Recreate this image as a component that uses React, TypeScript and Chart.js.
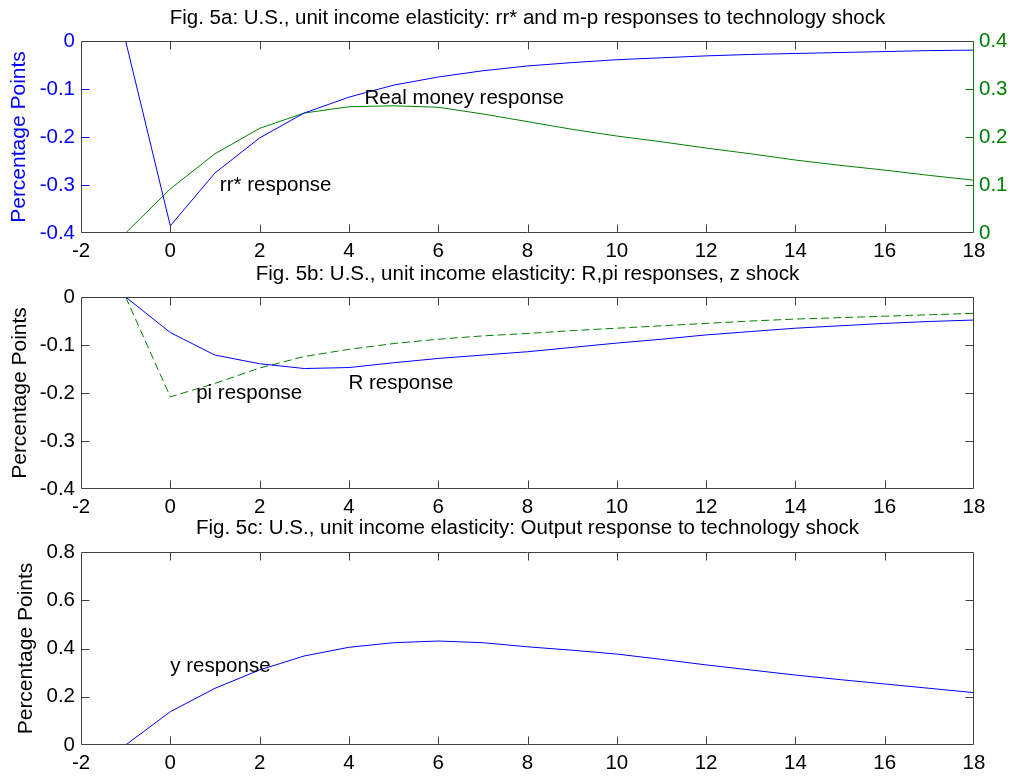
import React, { useEffect, useRef } from "react";
import { Chart, registerables } from "chart.js";

Chart.register(...registerables);

// ---------- data ----------
const periods = [-1, 0, 1, 2, 3, 4, 5, 6, 7, 8, 9, 10, 11, 12, 13, 14, 15, 16, 17, 18];

// Fig 5a
const rrStarResponse = [0, -0.385, -0.275, -0.202, -0.15, -0.117, -0.092, -0.075, -0.062, -0.052, -0.045, -0.039, -0.035, -0.031, -0.028, -0.026, -0.024, -0.022, -0.02, -0.019];
const realMoneyResponse = [0, 0.092, 0.165, 0.218, 0.25, 0.263, 0.265, 0.262, 0.248, 0.232, 0.216, 0.202, 0.19, 0.177, 0.165, 0.152, 0.141, 0.131, 0.12, 0.11];

// Fig 5b
const rResponse = [0, -0.074, -0.121, -0.139, -0.149, -0.147, -0.137, -0.128, -0.121, -0.114, -0.105, -0.096, -0.088, -0.079, -0.072, -0.065, -0.06, -0.055, -0.051, -0.048];
const piResponse = [0, -0.208, -0.18, -0.148, -0.124, -0.109, -0.097, -0.088, -0.081, -0.076, -0.07, -0.065, -0.06, -0.055, -0.05, -0.046, -0.043, -0.04, -0.037, -0.034];

// Fig 5c
const yResponse = [0, 0.138, 0.235, 0.311, 0.369, 0.405, 0.424, 0.431, 0.424, 0.407, 0.393, 0.377, 0.355, 0.332, 0.311, 0.29, 0.271, 0.253, 0.235, 0.217];

const titles = [
  "Fig. 5a: U.S., unit income elasticity: rr* and m-p responses to technology shock",
  "Fig. 5b: U.S., unit income elasticity: R,pi responses, z shock",
  "Fig. 5c: U.S., unit income elasticity: Output response to technology shock",
];

const yAxisLabel = "Percentage Points";

// ---------- styling ----------
const FONT = '"Liberation Sans", Arial, Helvetica, sans-serif';
const BLUE = "#0000ff";
const GREEN = "#008000";
const FRAME = "#404040";
const TICK_FONT_SIZE = 20.5;
const TITLE_FONT_SIZE = 20.5;
const AXIS_TITLE_SIZE = 21;

const toPoints = (ys: number[]) => periods.map((p, i) => ({ x: p, y: ys[i] }));

const fmt1 = (v: any) => {
  const n = Number(v);
  return String(parseFloat(n.toFixed(1)));
};

const framePlugin = {
  id: "matFrame",
  afterDraw(chart: any, _args: any, opts: any) {
    const { ctx, chartArea: a, scales } = chart;
    ctx.save();
    // title
    ctx.font = `${TITLE_FONT_SIZE}px ${FONT}`;
    ctx.fillStyle = "#000";
    ctx.textAlign = "center";
    ctx.textBaseline = "middle";
    ctx.fillText(opts.title, (a.left + a.right) / 2, a.top - opts.titleOffset);

    // annotations
    ctx.font = `${TICK_FONT_SIZE}px ${FONT}`;
    ctx.textAlign = "left";
    ctx.textBaseline = "middle";
    (opts.notes || []).forEach((n: any) => {
      const px = scales.x.getPixelForValue(n.x);
      const py = scales[n.axis || "y"].getPixelForValue(n.y);
      ctx.fillText(n.text, px, py);
    });

    // frame
    ctx.lineWidth = 1;
    ctx.strokeStyle = FRAME;
    const L = Math.round(a.left) + 0.5;
    const R = Math.round(a.right) - 0.5;
    const T = Math.round(a.top) + 0.5;
    const B = Math.round(a.bottom) - 0.5;
    ctx.beginPath();
    ctx.moveTo(R, T);
    ctx.lineTo(L, T);
    ctx.lineTo(L, B);
    ctx.lineTo(R, B);
    ctx.stroke();
    ctx.strokeStyle = opts.rightColor || FRAME;
    ctx.beginPath();
    ctx.moveTo(R, T);
    ctx.lineTo(R, B);
    ctx.stroke();

    const TL = 8;
    // x ticks (inward, top & bottom)
    ctx.strokeStyle = FRAME;
    ctx.beginPath();
    scales.x.ticks.forEach((t: any) => {
      const px = Math.round(scales.x.getPixelForValue(t.value)) + 0.5;
      if (px <= L + 1 || px >= R - 1) return;
      ctx.moveTo(px, T);
      ctx.lineTo(px, T + TL);
      ctx.moveTo(px, B);
      ctx.lineTo(px, B - TL);
    });
    ctx.stroke();

    // left ticks (inward)
    const ls = scales.y;
    ctx.strokeStyle = opts.leftTickColor || FRAME;
    ctx.beginPath();
    ls.ticks.forEach((t: any) => {
      const py = Math.round(ls.getPixelForValue(t.value)) + 0.5;
      if (py <= T + 1 || py >= B - 1) return;
      ctx.moveTo(L, py);
      ctx.lineTo(L + TL, py);
    });
    ctx.stroke();

    // right ticks (inward)
    const rs = scales[opts.rightAxis];
    ctx.strokeStyle = opts.rightColor || FRAME;
    ctx.beginPath();
    rs.ticks.forEach((t: any) => {
      const py = Math.round(rs.getPixelForValue(t.value)) + 0.5;
      if (py <= T + 1 || py >= B - 1) return;
      ctx.moveTo(R, py);
      ctx.lineTo(R - TL, py);
    });
    ctx.stroke();
    ctx.restore();
  },
};

function xScale(height: number) {
  return {
    type: "linear",
    min: -2,
    max: 18,
    grid: { display: false, drawTicks: false },
    border: { display: false },
    ticks: {
      stepSize: 2,
      color: "#000",
      font: { family: FONT, size: TICK_FONT_SIZE },
      padding: 6,
      maxRotation: 0,
      autoSkip: false,
      callback: (v: any) => String(v),
    },
    afterFit: (s: any) => {
      s.height = height;
    },
  };
}

function yScale(
  min: number,
  max: number,
  step: number,
  color: string,
  position: string,
  width: number,
  titlePad: number | null
) {
  return {
    type: "linear",
    position,
    min,
    max,
    grid: { display: false, drawTicks: false },
    border: { display: false },
    ticks: {
      stepSize: step,
      color,
      font: { family: FONT, size: TICK_FONT_SIZE },
      padding: position === "left" ? 6 : 5,
      callback: fmt1,
    },
    title:
      titlePad !== null
        ? {
            display: true,
            text: yAxisLabel,
            color,
            font: { family: FONT, size: AXIS_TITLE_SIZE },
            padding: { top: titlePad, bottom: 0 },
          }
        : { display: false },
    afterFit: (s: any) => {
      s.width = width;
    },
  };
}

function lineDs(ys: number[], color: string, axis: string, dash: number[] = []) {
  return {
    data: toPoints(ys),
    borderColor: color,
    backgroundColor: color,
    borderWidth: 1,
    borderDash: dash,
    pointRadius: 0,
    pointHoverRadius: 0,
    fill: false,
    tension: 0,
    yAxisID: axis,
  };
}

const basePlugins = {
  legend: { display: false },
  tooltip: { enabled: false },
  title: { display: false },
};

const baseOptions = (padTop: number, padRight: number) => ({
  responsive: false,
  maintainAspectRatio: false,
  animation: false,
  events: [],
  layout: { padding: { top: padTop, left: 0, right: padRight, bottom: 0 } },
});

const panelConfigs: any[] = [
  {
    top: 0,
    height: 260,
    config: {
      type: "line",
      data: {
        datasets: [lineDs(rrStarResponse, BLUE, "y"), lineDs(realMoneyResponse, GREEN, "y1")],
      },
      options: {
        ...baseOptions(41, 0),
        scales: {
          x: xScale(27),
          y: yScale(-0.4, 0, 0.1, BLUE, "left", 81, 7),
          y1: yScale(0, 0.4, 0.1, GREEN, "right", 41, null),
        },
        plugins: {
          ...basePlugins,
          matFrame: {
            title: titles[0],
            titleOffset: 23,
            rightAxis: "y1",
            rightColor: GREEN,
            leftTickColor: BLUE,
            notes: [
              { text: "Real money response", x: 4.35, y: -0.119 },
              { text: "rr* response", x: 1.11, y: -0.3 },
            ],
          },
        },
      },
      plugins: [framePlugin],
    },
  },
  {
    top: 260,
    height: 256,
    config: {
      type: "line",
      data: {
        datasets: [lineDs(rResponse, BLUE, "y"), lineDs(piResponse, GREEN, "y", [8, 4])],
      },
      options: {
        ...baseOptions(37, 41),
        scales: {
          x: xScale(27),
          y: yScale(-0.4, 0, 0.1, "#000", "left", 81, 8),
        },
        plugins: {
          ...basePlugins,
          matFrame: {
            title: titles[1],
            titleOffset: 23,
            rightAxis: "y",
            rightColor: FRAME,
            notes: [
              { text: "pi response", x: 0.58, y: -0.2 },
              { text: "R response", x: 3.99, y: -0.18 },
            ],
          },
        },
      },
      plugins: [framePlugin],
    },
  },
  {
    top: 516,
    height: 261,
    config: {
      type: "line",
      data: {
        datasets: [lineDs(yResponse, BLUE, "y")],
      },
      options: {
        ...baseOptions(36, 41),
        scales: {
          x: xScale(32),
          y: yScale(0, 0.8, 0.2, "#000", "left", 81, 14),
        },
        plugins: {
          ...basePlugins,
          matFrame: {
            title: titles[2],
            titleOffset: 24,
            rightAxis: "y",
            rightColor: FRAME,
            notes: [{ text: "y response", x: 0, y: 0.326 }],
          },
        },
      },
      plugins: [framePlugin],
    },
  },
];

function Panel({ top, height, config }: any) {
  const ref = useRef<HTMLCanvasElement | null>(null);
  useEffect(() => {
    if (!ref.current) return;
    const chart = new Chart(ref.current, config);
    return () => chart.destroy();
  }, [config]);
  return (
    <canvas
      ref={ref}
      width={1015}
      height={height}
      style={{ position: "absolute", left: 0, top, width: 1015, height }}
    />
  );
}

export default function App() {
  return (
    <div
      style={{
        position: "absolute",
        left: 0,
        top: 0,
        width: 1015,
        height: 777,
        background: "#fff",
        overflow: "hidden",
      }}
    >
      {panelConfigs.map((p, i) => (
        <Panel key={i} top={p.top} height={p.height} config={p.config} />
      ))}
    </div>
  );
}
